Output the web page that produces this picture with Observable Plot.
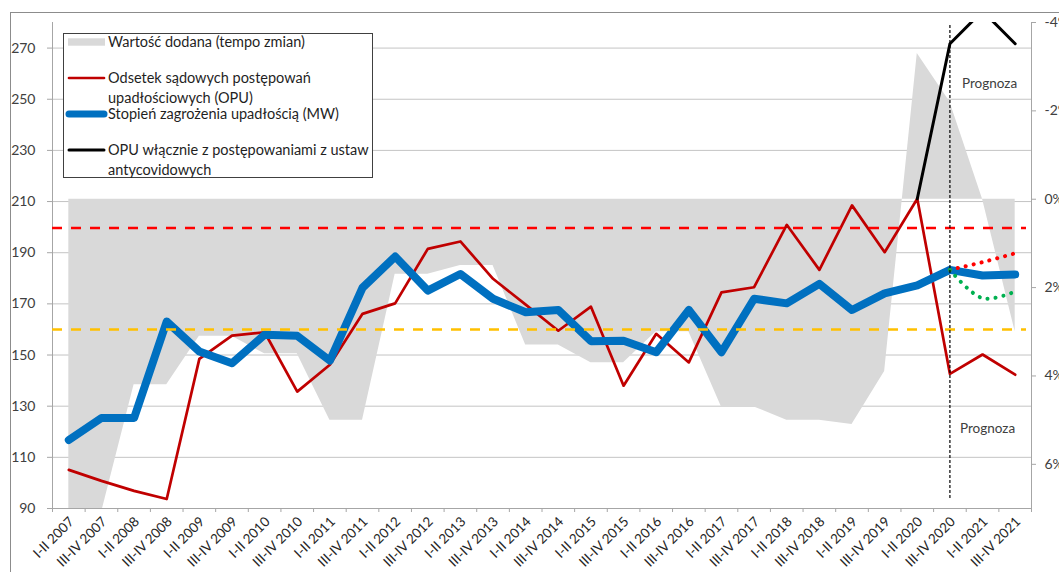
<!DOCTYPE html>
<html><head><meta charset="utf-8">
<script src="https://cdn.jsdelivr.net/npm/d3@7"></script>
<script src="https://cdn.jsdelivr.net/npm/@observablehq/plot@0.6"></script>
<style>
body{margin:0;background:#fff;overflow:hidden;font-family:Lato,"Open Sans",sans-serif;}
#wrap{position:relative;width:1059px;height:572px;overflow:hidden;}
#border{position:absolute;left:10px;top:12px;width:1200px;height:700px;border:1px solid #8c8c8c;pointer-events:none;}
#chart{position:absolute;left:0;top:0;}
#legend{position:absolute;left:63px;top:33px;}
</style></head>
<body>
<div id="wrap"><div id="border"></div><div id="chart"></div><svg id="legend" width="311" height="146"></svg></div>
<script>
const labels = ["I-II 2007","III-IV 2007","I-II 2008","III-IV 2008","I-II 2009","III-IV 2009","I-II 2010","III-IV 2010","I-II 2011","III-IV 2011","I-II 2012","III-IV 2012","I-II 2013","III-IV 2013","I-II 2014","III-IV 2014","I-II 2015","III-IV 2015","I-II 2016","III-IV 2016","I-II 2017","III-IV 2017","I-II 2018","III-IV 2018","I-II 2019","III-IV 2019","I-II 2020","III-IV 2020","I-II 2021","III-IV 2021"];
// Stopień zagrożenia upadłością (MW) – left axis
const mw = [116.8,125.4,125.4,163.1,151.4,146.8,157.9,157.5,147.8,176.3,188.5,175.2,181.7,172.0,166.7,167.6,155.4,155.6,151.1,167.6,151.1,172.0,170.2,177.8,167.6,174.1,177.2,183.3,181.1,181.5];
// Odsetek sądowych postępowań upadłościowych (OPU) – left axis
const opu = [105.1,100.8,96.9,93.7,148.5,157.6,158.9,135.7,146.2,166.1,170.2,191.5,194.4,179.8,169.7,159.5,168.9,138.0,158.3,147.1,174.5,176.5,200.9,183.3,208.5,190.2,211.1,142.6,150.2,142.3];
// OPU włącznie z postępowaniami z ustaw antycovidowych (from I-II 2020)
const opuCovidLabels = ["I-II 2020","III-IV 2020","I-II 2021","III-IV 2021"];
const opuCovid = [211.1,271.7,284.5,271.7];
// Forecast scenarios of MW (from III-IV 2020)
const fcLabels = ["III-IV 2020","I-II 2021","III-IV 2021"];
const fcHigh = [183.3,186.3,189.8];
const fcLow = [183.3,172.2,174.8];
// Wartość dodana (tempo zmian), % – right axis (inverted)
const valueAdded = [7.1,7.1,4.2,4.2,3.1,3.1,3.5,3.5,5.0,5.0,1.7,1.7,1.5,1.5,3.3,3.3,3.7,3.7,3.0,3.0,4.7,4.7,5.0,5.0,5.1,3.9,-3.3,-2.2,0.0,3.0];
// thresholds
const redThreshold = 199.7;
const yellowThreshold = 160;
const forecastFrom = "III-IV 2020";
const leftTicks = [90,110,130,150,170,190,210,230,250,270];
const rightTicks = [-4,-2,0,2,4,6];
const leftDomain = [90,280];
const rightDomain = [7,-4]; // bottom → top

const pctToLeft = p => leftDomain[0] + (rightDomain[0]-p)*(leftDomain[1]-leftDomain[0])/(rightDomain[0]-rightDomain[1]);
const leftToPct = v => rightDomain[0] - (v-leftDomain[0])*(rightDomain[0]-rightDomain[1])/(leftDomain[1]-leftDomain[0]);
const pos = l => labels.indexOf(l) + 0.5;

const rows = labels.map((l,i)=>({x: i+0.5, mw: mw[i], opu: opu[i], va: pctToLeft(valueAdded[i]), base: pctToLeft(0)}));
const covidRows = opuCovidLabels.map((l,i)=>({x: pos(l), v: opuCovid[i]}));
const fcRows = fcLabels.map((l,i)=>({x: pos(l), hi: fcHigh[i], lo: fcLow[i]}));

const chart = Plot.plot({
  width: 1059, height: 572,
  marginLeft: 52, marginRight: 28, marginTop: 22, marginBottom: 64,
  x: {domain: [0, labels.length], axis: null, label: null},
  y: {domain: leftDomain, axis: null, label: null},
  style: {fontFamily: "Lato, 'Open Sans', sans-serif", fontSize: "14px", color: "#404040", background: "transparent", overflow: "visible"},
  marks: [
    Plot.gridY(leftTicks.slice(1), {stroke: "#c4c4c4", strokeOpacity: 1}),
    Plot.area(rows, {x1: "x", y1: "base", y2: "va", fill: "#d9d9d9", clip: true}),
    Plot.ruleX([0, labels.length], {stroke: "#a6a6a6"}),
    Plot.ruleY([leftDomain[0]], {stroke: "#a6a6a6"}),
    Plot.line(rows, {x: "x", y: "opu", stroke: "#c00000", strokeWidth: 2.7}),
    Plot.line(rows, {x: "x", y: "mw", stroke: "#0070c0", strokeWidth: 8, strokeLinejoin: "round", strokeLinecap: "round"}),
    Plot.line(covidRows, {x: "x", y: "v", stroke: "#000", strokeWidth: 3, clip: true}),
    Plot.ruleY([redThreshold], {stroke: "#ff0000", strokeWidth: 2.5, strokeDasharray: "10 9", insetRight: 5}),
    Plot.ruleY([yellowThreshold], {stroke: "#ffc000", strokeWidth: 2.5, strokeDasharray: "10 9", insetRight: 5}),
    Plot.line(fcRows, {x: "x", y: "hi", stroke: "#ff0000", strokeWidth: 4, strokeDasharray: "0.1 8", strokeLinecap: "round", curve: "catmull-rom"}),
    Plot.line(fcRows, {x: "x", y: "lo", stroke: "#00b050", strokeWidth: 4, strokeDasharray: "0.1 8", strokeLinecap: "round", curve: "catmull-rom"}),
    Plot.ruleX([pos(forecastFrom)], {stroke: "#000", strokeWidth: 1.2, strokeDasharray: "3 2", insetTop: 3, insetBottom: 8}),
    Plot.axisY(leftTicks, {anchor: "left", label: null, tickSize: 5, tickPadding: 12, stroke: "#a6a6a6", fill: "#404040", fontSize: 14}),
    Plot.axisY(rightTicks.map(pctToLeft), {anchor: "right", label: null, tickSize: 4, tickPadding: 9, stroke: "#a6a6a6", fill: "#404040", fontSize: 14, tickFormat: v => `${Math.round(leftToPct(v))}%`}),
    Plot.axisX(d3.range(labels.length + 1), {anchor: "bottom", label: null, tickSize: 4, stroke: "#a6a6a6", tickFormat: () => ""}),
    Plot.axisX(labels.map((l,i)=>i+0.5), {anchor: "bottom", label: null, tickSize: 0, tickPadding: 11, dx: 3, tickRotate: -45, fill: "#262626", fontSize: 13.5, tickFormat: v => labels[Math.floor(v)]}),
    Plot.text(["Prognoza"], {x: pos("I-II 2021"), frameAnchor: "top", dx: 7, dy: 56, fill: "#404040", fontSize: 13.5}),
    Plot.text(["Prognoza"], {x: pos("I-II 2021"), frameAnchor: "bottom", dx: 5, dy: -76, fill: "#404040", fontSize: 13.5})
  ]
});
document.getElementById("chart").appendChild(chart);

// legend
const legendItems = [
  {kind: "area", color: "#d9d9d9", width: 0, lines: ["Wartość dodana (tempo zmian)"]},
  {kind: "line", color: "#c00000", width: 2.7, lines: ["Odsetek sądowych postępowań", "upadłościowych (OPU)"]},
  {kind: "line", color: "#0070c0", width: 7, lines: ["Stopień zagrożenia upadłością (MW)"]},
  {kind: "line", color: "#000000", width: 3, lines: ["OPU włącznie z postępowaniami z ustaw", "antycovidowych"]}
];
const lg = d3.select("#legend");
lg.append("rect").attr("x", 0.5).attr("y", 0.5).attr("width", 309).attr("height", 144).attr("fill", "#fff").attr("stroke", "#404040");
legendItems.forEach((it, i) => {
  const cy = 9 + 36 * i;
  if (it.kind === "area") lg.append("rect").attr("x", 5).attr("y", cy - 3.7).attr("width", 37).attr("height", 7.4).attr("fill", it.color);
  else lg.append("line").attr("x1", 6).attr("x2", 41).attr("y1", cy).attr("y2", cy).attr("stroke", it.color).attr("stroke-width", it.width).attr("stroke-linecap", "round");
  it.lines.forEach((t, j) => lg.append("text").attr("x", 45).attr("y", cy + 19.7 * j).attr("dy", "0.35em")
    .attr("font-family", "Lato, 'Open Sans', sans-serif").attr("font-size", 14.5).attr("fill", "#1f1f1f").text(t));
});
</script>
</body></html>
